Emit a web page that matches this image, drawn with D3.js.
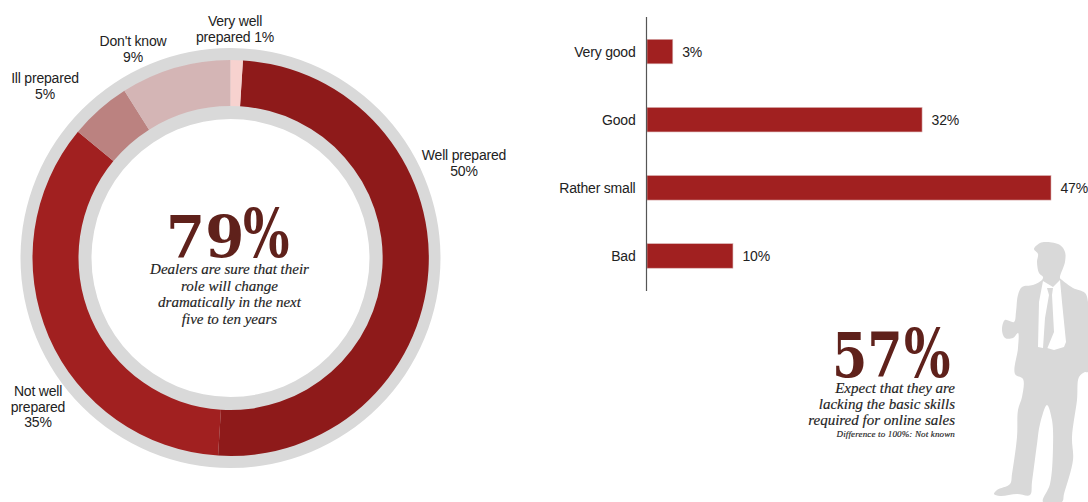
<!DOCTYPE html>
<html>
<head>
<meta charset="utf-8">
<script src="https://cdn.jsdelivr.net/npm/d3@7/dist/d3.min.js"></script>
<style>
  html, body { margin: 0; padding: 0; background: #fff; }
  svg { display: block; }
  .lbl { font-family: "Liberation Sans", Arial, sans-serif; font-size: 14px; letter-spacing: -0.2px; fill: #222; }
  .big { font-family: "DejaVu Serif", Georgia, serif; font-weight: 700; fill: #5f211b; }
  .cap { font-family: "Liberation Serif", Georgia, serif; font-style: italic; font-size: 15px; fill: #222; stroke: #222; stroke-width: 0.15px; }
</style>
</head>
<body>
<svg id="chart" width="1088" height="502"></svg>
<script>
// Readiness of dealers (ring chart)
const readinessNames = ["Well prepared", "Not well prepared", "Ill prepared", "Don't know", "Very well prepared"];
const readinessValues = [50, 35, 5, 9, 1];
const readinessColors = ["#8e1a1a", "#a12020", "#bb8280", "#d4b5b5", "#f7d2cf"];
const readinessLabels = [
  { lines: ["Well prepared", "50%"], x: 464, y: 160 },
  { lines: ["Not well", "prepared", "35%"], x: 38, y: 396 },
  { lines: ["Ill prepared", "5%"], x: 45, y: 83 },
  { lines: ["Don't know", "9%"], x: 133, y: 46 },
  { lines: ["Very well", "prepared 1%"], x: 235, y: 26 }
];

// Skills rating (bar chart)
const ratingNames = ["Very good", "Good", "Rather small", "Bad"];
const ratingValues = [3, 32, 47, 10];

// Outline of the standing figure beside the second call-out
const figureBody = [[1047,242],[1040,243],[1034,249],[1038,254],[1037,262],[1039,273],[1043,277],[1042,280],[1033,285],[1022,287],[1018,295],[1016,312],[1014,322],[1005,320],[1002,330],[1005,338],[1013,338],[1018,333],[1018,348],[1015,374],[1023,379],[1022,397],[1018,410],[1017,437],[1012,474],[1010,484],[997,490],[994,494],[1000,496],[1017,494],[1030,495],[1032,482],[1037,444],[1040,424],[1047,405],[1052,420],[1053,447],[1050,484],[1043,502],[1062,502],[1064,494],[1073,460],[1072,437],[1077,400],[1079,377],[1085,372],[1088,372],[1088,302],[1085,293],[1073,288],[1062,280],[1060,278],[1065,262],[1065,252],[1060,245]];
const figureShirt = [[1043,281],[1039,302],[1038,347],[1043,348],[1047,348],[1054,350],[1064,347],[1066,342],[1062,302],[1060,280],[1053,287]];
const figureTie = [[1047,288],[1053,288],[1052,295],[1054,332],[1047,349],[1043,348],[1045,318],[1049,295]];

const svg = d3.select("#chart");
const cx = 230.5, cy = 258;

// Grey backing band behind the ring
const band = d3.arc()
  .innerRadius(139).outerRadius(210).startAngle(0).endAngle(2 * Math.PI);
svg.append("path").attr("transform", `translate(${cx},${cy})`).attr("d", band()).attr("fill", "#d9d9d9");

const pie = d3.pie().sort(null)
  .startAngle(3.6 * Math.PI / 180)
  .endAngle((360 + 3.6) * Math.PI / 180);
const arc = d3.arc().innerRadius(152).outerRadius(198);
svg.append("g").attr("transform", `translate(${cx},${cy})`)
  .selectAll("path").data(pie(readinessValues)).join("path")
  .attr("d", arc)
  .attr("fill", (d, i) => readinessColors[i]);

const ringLabels = svg.append("g").attr("class", "lbl");
readinessLabels.forEach(l => {
  const t = ringLabels.append("text").attr("text-anchor", "middle");
  l.lines.forEach((s, i) => t.append("tspan").attr("x", l.x).attr("y", l.y + i * 15.5).text(s));
});

// Large serif call-out: figure, then caption lines
function callout(opts) {
  const num = svg.append("g").attr("transform", `translate(${opts.x},${opts.y})`);
  num.append("text").attr("class", "big").attr("font-size", opts.size)
    .attr("transform", `scale(${opts.squeeze},1)`).text(opts.digits);
  num.append("text").attr("class", "big").attr("font-size", 68)
    .attr("transform", `translate(${opts.pctX},0) scale(0.72,1)`).text("%");
  const cap = svg.append("text").attr("class", "cap").attr("text-anchor", opts.anchor);
  opts.lines.forEach((s, i) => cap.append("tspan")
    .attr("x", opts.capX).attr("y", opts.capY + i * opts.capStep).text(s));
}

callout({
  digits: "79", x: 166, y: 257, size: 58, squeeze: 0.97, pctX: 77,
  lines: ["Dealers are sure that their", "role will change", "dramatically in the next", "five to ten years"],
  capX: 229.5, capY: 274, capStep: 16.5, anchor: "middle"
});
callout({
  digits: "57", x: 832, y: 377, size: 62, squeeze: 0.82, pctX: 72,
  lines: ["Expect that they are", "lacking the basic skills", "required for online sales"],
  capX: 955, capY: 393, capStep: 16, anchor: "end"
});
svg.append("text").attr("class", "cap").attr("text-anchor", "end")
  .attr("x", 955).attr("y", 437).style("font-size", "9px").style("letter-spacing", "0.15px")
  .text("Difference to 100%: Not known");

// Bars with a left axis
const x = d3.scaleLinear().domain([0, 47]).range([647, 1051]);
const y = d3.scaleBand().domain(ratingNames).range([17.5, 290]).paddingInner(0.64).paddingOuter(0.32);
const bars = svg.append("g");
bars.selectAll("rect").data(ratingValues).join("rect")
  .attr("x", x(0))
  .attr("y", (d, i) => y(ratingNames[i]))
  .attr("width", d => x(d) - x(0))
  .attr("height", y.bandwidth())
  .attr("fill", "#a12020")
  .attr("stroke", "#d9b3b3").attr("stroke-width", 0.6);
bars.selectAll("text.value").data(ratingValues).join("text")
  .attr("class", "value lbl")
  .attr("x", d => x(d) + 9.5)
  .attr("y", (d, i) => y(ratingNames[i]) + y.bandwidth() / 2 + 5)
  .text(d => d + "%");

const axis = svg.append("g").attr("transform", "translate(646.5,0)")
  .call(d3.axisLeft(y).tickSize(0).tickPadding(11));
axis.select(".domain").attr("stroke", "#555").attr("stroke-width", 1.2).attr("d", "M0,17V291");
axis.selectAll("text").attr("class", "lbl").attr("dy", "0.36em")
  .style("font-family", '"Liberation Sans", Arial, sans-serif').style("font-size", "14px").style("fill", "#222");

// Figure silhouette
const outline = d3.line().curve(d3.curveCatmullRomClosed.alpha(0.5));
svg.append("path").attr("d", outline(figureBody)).attr("fill", "#d9d9d9");
svg.append("path").attr("d", d3.line()(figureShirt) + "Z").attr("fill", "#fff");
svg.append("path").attr("d", d3.line()(figureTie) + "Z").attr("fill", "#d9d9d9");
</script>
</body>
</html>
